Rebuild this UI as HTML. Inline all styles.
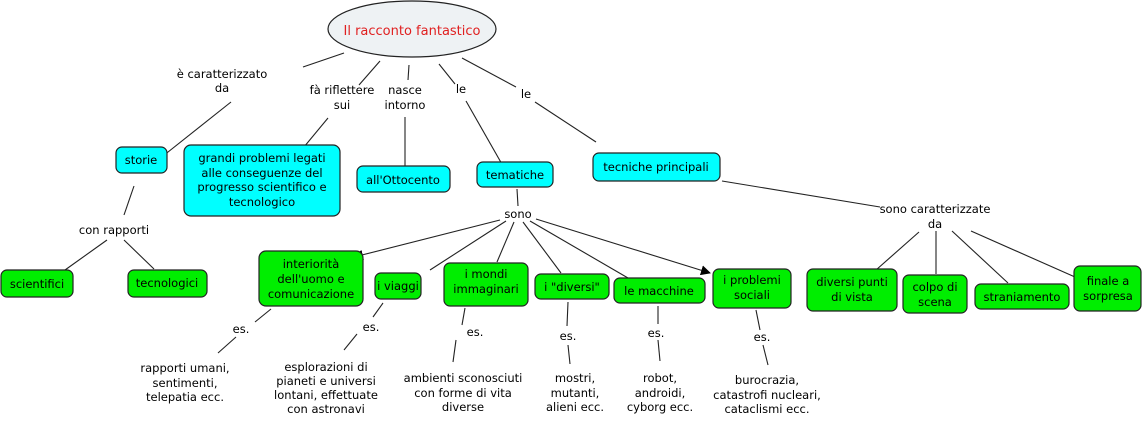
<!DOCTYPE html>
<html><head><meta charset="utf-8"><style>
html,body{margin:0;padding:0;background:#fff;}
svg{display:block;}
text{font-family:"DejaVu Sans","Liberation Sans",sans-serif;font-size:11.5px;fill:#000;text-anchor:middle;}
.c{fill:#00ffff;stroke:#222;stroke-width:1.2;}
.g{fill:#00ee00;stroke:#222;stroke-width:1.2;}
line{stroke:#222;stroke-width:1.1;}
</style></head><body>
<svg width="1145" height="424" viewBox="0 0 1145 424">
<defs><marker id="a" markerWidth="10" markerHeight="10" refX="9" refY="5" orient="auto" markerUnits="userSpaceOnUse"><path d="M0,0 L10,5 L0,10 z" fill="#000"/></marker></defs>
<!-- lines -->
<line x1="344" y1="53" x2="303" y2="67"/>
<line x1="231" y1="102" x2="163" y2="156"/>
<line x1="380" y1="61" x2="359" y2="85"/>
<line x1="328" y1="118" x2="299" y2="153"/>
<line x1="409" y1="65" x2="408" y2="80"/>
<line x1="405" y1="117" x2="405" y2="177"/>
<line x1="439" y1="64" x2="455" y2="84"/>
<line x1="466" y1="101" x2="507" y2="173"/>
<line x1="462" y1="58" x2="516" y2="87"/>
<line x1="535" y1="102" x2="596" y2="142"/>
<line x1="134" y1="186" x2="124" y2="215"/>
<line x1="107" y1="240" x2="65" y2="270"/>
<line x1="124" y1="240" x2="154" y2="269"/>
<line x1="517" y1="189" x2="518" y2="206"/>
<line x1="500" y1="220" x2="354" y2="257" marker-end="url(#a)"/>
<line x1="506" y1="221" x2="430" y2="270"/>
<line x1="514" y1="222" x2="497" y2="262"/>
<line x1="523" y1="222" x2="561" y2="273"/>
<line x1="530" y1="221" x2="628" y2="278"/>
<line x1="536" y1="219" x2="710" y2="273" marker-end="url(#a)"/>
<line x1="722" y1="181" x2="880" y2="207"/>
<line x1="919" y1="232" x2="876" y2="270"/>
<line x1="936" y1="231" x2="936" y2="274"/>
<line x1="952" y1="231" x2="1008" y2="283"/>
<line x1="971" y1="231" x2="1075" y2="277"/>
<line x1="271" y1="309" x2="255" y2="322"/>
<line x1="236" y1="337" x2="218" y2="353"/>
<line x1="383" y1="303" x2="373" y2="317"/>
<line x1="357" y1="334" x2="344" y2="350"/>
<line x1="465" y1="308" x2="462" y2="325"/>
<line x1="456" y1="340" x2="453" y2="362"/>
<line x1="568" y1="302" x2="567" y2="326"/>
<line x1="568" y1="345" x2="570" y2="364"/>
<line x1="658" y1="306" x2="658" y2="324"/>
<line x1="658" y1="340" x2="660" y2="361"/>
<line x1="756" y1="310" x2="760" y2="330"/>
<line x1="763" y1="345" x2="768" y2="365"/>
<!-- root -->
<ellipse cx="412" cy="29" rx="84" ry="28" fill="#eef2f4" stroke="#222" stroke-width="1.2"/>
<text x="412" y="35" style="fill:#e02020;font-size:13px">Il racconto fantastico</text>
<!-- link labels -->
<text x="222" y="78">è caratterizzato</text><text x="222" y="92">da</text>
<text x="342" y="94">fà riflettere</text><text x="342" y="109">sui</text>
<text x="405" y="94">nasce</text><text x="405" y="109">intorno</text>
<text x="461" y="93">le</text>
<text x="526" y="98">le</text>
<text x="114" y="234">con rapporti</text>
<text x="518" y="218">sono</text>
<text x="935" y="213">sono caratterizzate</text><text x="935" y="228">da</text>
<text x="241" y="333">es.</text>
<text x="371" y="331">es.</text>
<text x="475" y="336">es.</text>
<text x="568" y="340">es.</text>
<text x="656" y="337">es.</text>
<text x="762" y="341">es.</text>
<!-- cyan nodes -->
<rect class="c" x="116" y="147" width="51" height="26" rx="6"/><text x="141" y="164">storie</text>
<rect class="c" x="184" y="145" width="156" height="71" rx="7"/>
<text x="262" y="162">grandi problemi legati</text><text x="262" y="177">alle conseguenze del</text><text x="262" y="191">progresso scientifico e</text><text x="262" y="206">tecnologico</text>
<rect class="c" x="357" y="166" width="93" height="26" rx="6"/><text x="403" y="184">all'Ottocento</text>
<rect class="c" x="477" y="162" width="76" height="25" rx="6"/><text x="515" y="179">tematiche</text>
<rect class="c" x="593" y="153" width="127" height="28" rx="6"/><text x="656" y="171">tecniche principali</text>
<!-- green nodes -->
<rect class="g" x="1" y="270" width="72" height="27" rx="6"/><text x="37" y="288">scientifici</text>
<rect class="g" x="128" y="270" width="79" height="27" rx="6"/><text x="167" y="287">tecnologici</text>
<rect class="g" x="259" y="251" width="104" height="55" rx="7"/><text x="311" y="268">interiorità</text><text x="311" y="283">dell'uomo e</text><text x="311" y="298">comunicazione</text>
<rect class="g" x="375" y="273" width="46" height="26" rx="6"/><text x="398" y="290">i viaggi</text>
<rect class="g" x="444" y="263" width="84" height="43" rx="6"/><text x="486" y="278">i mondi</text><text x="486" y="293">immaginari</text>
<rect class="g" x="535" y="274" width="74" height="25" rx="6"/><text x="572" y="291">i "diversi"</text>
<rect class="g" x="614" y="278" width="91" height="25" rx="6"/><text x="659" y="295">le macchine</text>
<rect class="g" x="713" y="269" width="78" height="39" rx="6"/><text x="752" y="284">i problemi</text><text x="752" y="299">sociali</text>
<rect class="g" x="807" y="269" width="90" height="42" rx="6"/><text x="852" y="286">diversi punti</text><text x="852" y="301">di vista</text>
<rect class="g" x="903" y="275" width="64" height="38" rx="6"/><text x="935" y="291">colpo di</text><text x="935" y="306">scena</text>
<rect class="g" x="975" y="284" width="94" height="25" rx="6"/><text x="1022" y="301">straniamento</text>
<rect class="g" x="1074" y="266" width="67" height="45" rx="6"/><text x="1108" y="285">finale a</text><text x="1108" y="300">sorpresa</text>
<!-- descriptions -->
<text x="185" y="372">rapporti umani,</text><text x="185" y="387">sentimenti,</text><text x="185" y="401">telepatia ecc.</text>
<text x="326" y="371">esplorazioni di</text><text x="326" y="385">pianeti e universi</text><text x="326" y="399">lontani, effettuate</text><text x="326" y="413">con astronavi</text>
<text x="463" y="382">ambienti sconosciuti</text><text x="463" y="397">con forme di vita</text><text x="463" y="411">diverse</text>
<text x="575" y="382">mostri,</text><text x="575" y="397">mutanti,</text><text x="575" y="411">alieni ecc.</text>
<text x="660" y="382">robot,</text><text x="660" y="397">androidi,</text><text x="660" y="411">cyborg ecc.</text>
<text x="767" y="384">burocrazia,</text><text x="767" y="399">catastrofi nucleari,</text><text x="767" y="413">cataclismi ecc.</text>
</svg>
</body></html>
